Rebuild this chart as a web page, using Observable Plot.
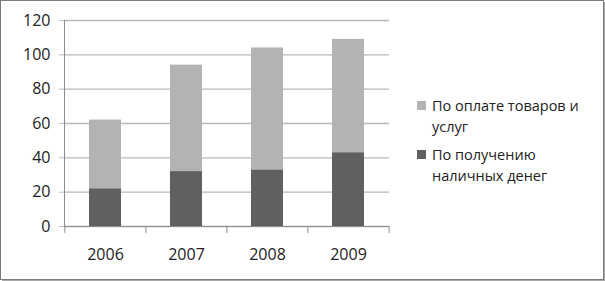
<!DOCTYPE html>
<html>
<head>
<meta charset="utf-8">
<script src="https://cdn.jsdelivr.net/npm/d3@7"></script>
<script src="https://cdn.jsdelivr.net/npm/@observablehq/plot@0.6"></script>
<style>
  html, body { margin: 0; padding: 0; background: #fff; }
  #wrap { position: relative; width: 605px; height: 281px; overflow: hidden; background: #fff;
          font-family: "Open Sans", sans-serif; }
  #chart { position: absolute; left: 0; top: 0; }
  #border { position: absolute; left: 0; top: 0; width: 602px; height: 278px;
            border: 1px solid #7a7a7a; box-shadow: 2px 2px 0 #a8a8a8; pointer-events: none; }
  #legend { position: absolute; left: 417px; top: 95px; font-size: 14.5px; color: #222; line-height: 21px; }
  .item { position: relative; padding-left: 15px; width: 160px; margin-bottom: 7px; }
  .sw { position: absolute; left: 0; top: 6px; width: 9px; height: 9px; }
</style>
</head>
<body>
<div id="wrap">
  <div id="chart"></div>
  <div id="legend"></div>
  <div id="border"></div>
</div>
<script>
const years = ["2006", "2007", "2008", "2009"];
const cashValues = [22, 32, 33, 43];
const goodsValues = [40, 62, 71, 66];
const seriesNames = ["По получению наличных денег", "По оплате товаров и услуг"];
const seriesColors = ["#606060", "#b3b3b3"];
const yTicks = [0, 20, 40, 60, 80, 100, 120];

const data = [
  ...years.map((y, i) => ({year: y, series: seriesNames[0], value: cashValues[i]})),
  ...years.map((y, i) => ({year: y, series: seriesNames[1], value: goodsValues[i]}))
];

const W = 400, H = 275, mL = 64, mR = 11, mT = 20, mB = 49;
const step = (W - mL - mR) / years.length;
const axisColor = "#8c8c8c";

const chart = Plot.plot({
  width: W, height: H,
  marginLeft: mL, marginRight: mR, marginTop: mT, marginBottom: mB,
  style: {fontFamily: "'Open Sans', sans-serif", fontSize: "16px", color: "#222", background: "transparent"},
  x: {domain: years, paddingInner: 0.6, paddingOuter: 0.3, axis: null},
  y: {domain: [0, 120], axis: null},
  color: {domain: seriesNames, range: seriesColors},
  marks: [
    Plot.gridY(yTicks, {stroke: "#b8b8b8", strokeOpacity: 1, strokeWidth: 1.3}),
    Plot.axisY(yTicks, {tickSize: 5, tickPadding: 9, stroke: "#b8b8b8", fontSize: 16, label: null, fill: "#222"}),
    Plot.barY(data, {x: "year", y: "value", fill: "series"}),
    Plot.frame({anchor: "left", stroke: axisColor}),
    Plot.ruleY([0], {stroke: axisColor}),
    Plot.axisX({tickSize: 7, tickFormat: () => "", dx: -step / 2, stroke: axisColor, label: null}),
    Plot.axisX([years[years.length - 1]], {tickSize: 7, tickFormat: () => "", dx: step / 2, stroke: axisColor, label: null}),
    Plot.axisX({tickSize: 0, tickPadding: 22, fontSize: 16, label: null, fill: "#222"})
  ]
});
document.getElementById("chart").appendChild(chart);

const legend = document.getElementById("legend");
[1, 0].forEach(i => {
  const item = document.createElement("div");
  item.className = "item";
  const sw = document.createElement("span");
  sw.className = "sw";
  sw.style.background = seriesColors[i];
  item.appendChild(sw);
  item.appendChild(document.createTextNode(seriesNames[i]));
  legend.appendChild(item);
});
</script>
</body>
</html>
